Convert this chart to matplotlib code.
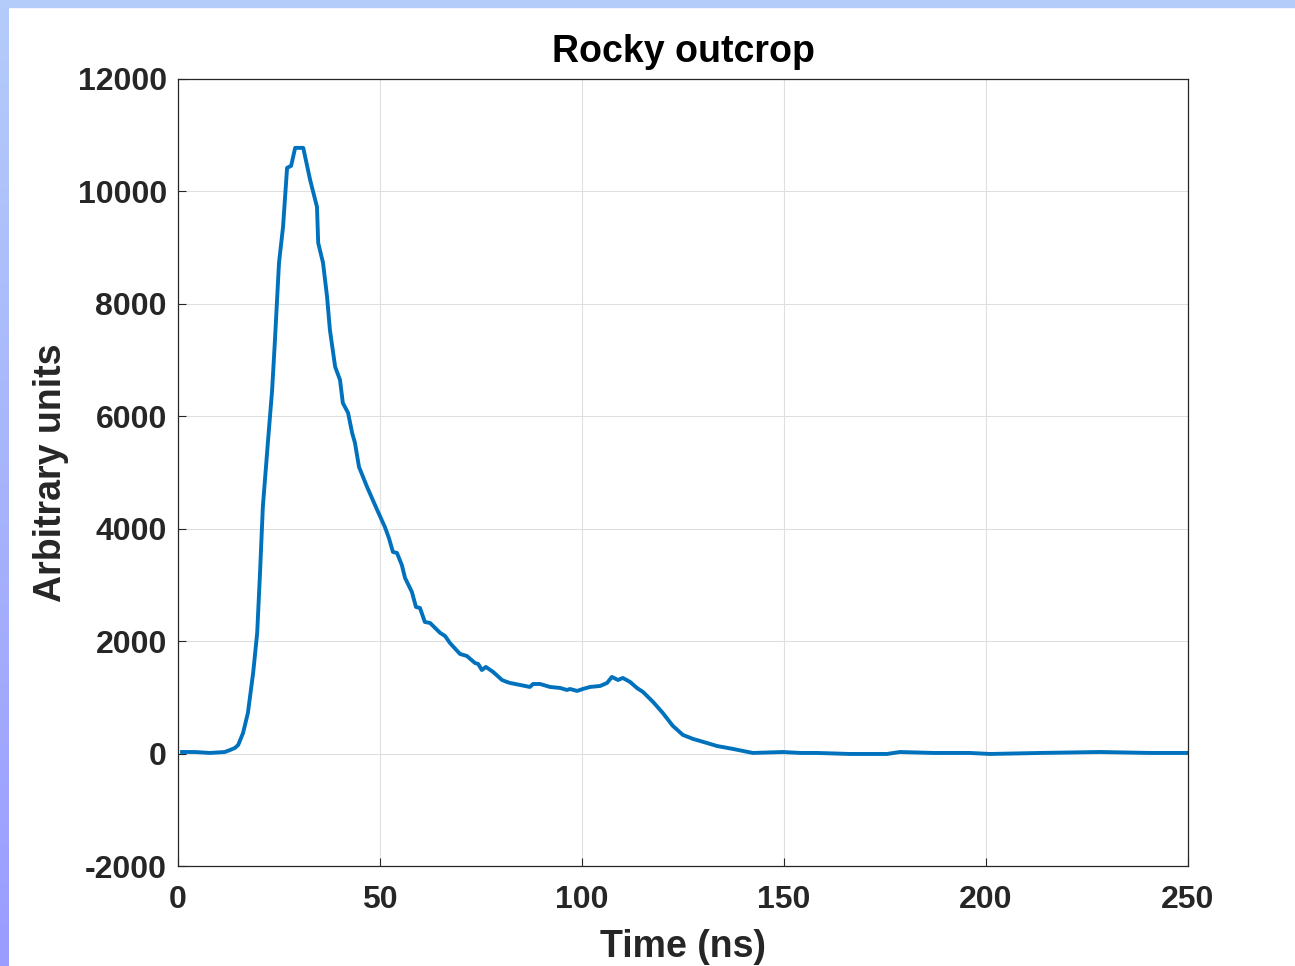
import numpy as np
import matplotlib.pyplot as plt
from matplotlib.colors import LinearSegmentedColormap

plt.rcParams['font.family'] = ['Liberation Sans', 'DejaVu Sans']
plt.rcParams['font.weight'] = 'bold'
plt.rcParams['axes.unicode_minus'] = False

# values (time in ns, signal in arbitrary units)
time_ns = [1.0, 4.2, 7.9, 11.6, 12.9, 14.1, 14.9, 16.1, 17.3, 18.6, 19.6, 20.3, 21.0,
           22.3, 23.3, 24.0, 25.0, 26.0, 27.0, 28.0, 29.0, 31.0, 32.7, 34.4, 34.7,
           35.9, 36.9, 37.6, 38.9, 40.1, 40.8, 42.1, 43.1, 43.8, 44.8, 46.8, 49.3,
           51.2, 52.2, 53.2, 54.2, 55.4, 56.2, 57.9, 58.9, 59.9, 61.1, 62.4, 64.9,
           66.1, 67.3, 69.8, 71.5, 73.5, 74.3, 75.2, 76.2, 78.0, 80.2, 81.4, 82.2,
           84.7, 87.1, 87.9, 89.6, 92.1, 94.6, 96.3, 97.0, 98.8, 100.2, 102.0, 104.5,
           106.2, 107.4, 108.9, 110.1, 111.9, 113.6, 115.1, 117.6, 120.0, 122.5,
           125.0, 127.5, 130.9, 133.4, 137.4, 142.3, 149.8, 154.0, 158.2, 166.3,
           175.5, 178.7, 186.9, 196.0, 201.0, 213.4, 228.2, 240.6, 250.0]
signal = [28, 28, 11, 28, 64, 100, 153, 366, 722, 1434, 2146, 3213, 4388,
          5580, 6469, 7359, 8729, 9370, 10419, 10455, 10775, 10775, 10206, 9725, 9085,
          8729, 8124, 7537, 6879, 6648, 6238, 6060, 5705, 5527, 5100, 4743, 4334,
          4032, 3836, 3587, 3569, 3355, 3124, 2874, 2608, 2590, 2341, 2323, 2146,
          2092, 1968, 1772, 1736, 1612, 1594, 1487, 1541, 1452, 1309, 1274, 1256,
          1220, 1185, 1238, 1238, 1185, 1167, 1131, 1149, 1114, 1149, 1185, 1203,
          1256, 1363, 1309, 1345, 1274, 1167, 1096, 918, 722, 491,
          331, 260, 189, 135, 82, 11, 28, 11, 11, -7,
          -7, 28, 11, 11, -7, 11, 28, 11, 11]

xticks = [0, 50, 100, 150, 200, 250]
yticks = [-2000, 0, 2000, 4000, 6000, 8000, 10000, 12000]

fig = plt.figure(figsize=(12.95, 9.66), dpi=100, facecolor='white')

# slide background strips (top band and left gradient band)
band = fig.add_axes([0, 0, 9 / 1295, 1])
cmap = LinearSegmentedColormap.from_list('slide', ['#9a9cff', '#b4ccfa'])
band.imshow(np.linspace(0, 1, 256).reshape(-1, 1), aspect='auto', cmap=cmap, origin='lower')
band.axis('off')
fig.patches.append(plt.Rectangle((0, 1 - 7 / 966), 1, 7 / 966, transform=fig.transFigure,
                                 color='#b4ccfa', zorder=5))

ax = fig.add_axes([178 / 1295, 100 / 966, 1010 / 1295, 787 / 966])
ax.plot(time_ns, signal, color='#0072BD', lw=2.8)

ax.set_xlim(0, 250)
ax.set_ylim(-2000, 12000)
ax.set_xticks(xticks)
ax.set_yticks(yticks)
ax.grid(True, color='#dfdfdf', lw=0.8)
ax.set_axisbelow(True)
ax.tick_params(direction='in', length=6, width=0.8, colors='#262626', labelsize=23)
ax.tick_params(axis='x', pad=14)
ax.tick_params(axis='y', pad=8)
for s in ax.spines.values():
    s.set_color('#262626')
    s.set_linewidth(0.9)

ax.set_title('Rocky outcrop', fontsize=27, fontweight='bold', color='black', pad=12)
ax.set_xlabel('Time (ns)', fontsize=27, fontweight='bold', color='#262626', labelpad=10)
ax.set_ylabel('Arbitrary units', fontsize=27, fontweight='bold', color='#262626', labelpad=6)

fig.savefig('out.png', dpi=100)
